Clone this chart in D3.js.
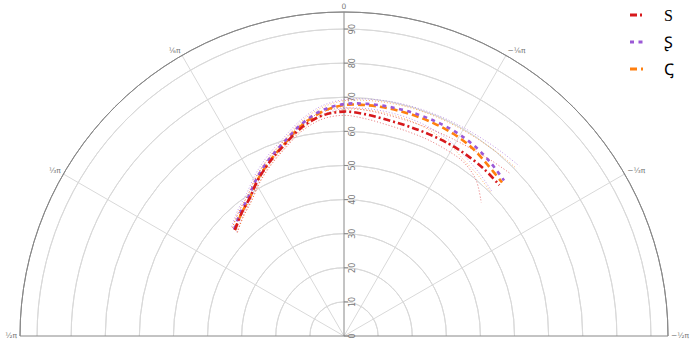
<!DOCTYPE html>
<html><head><meta charset="utf-8">
<script src="https://cdn.jsdelivr.net/npm/d3@7"></script>
<style>body{margin:0;background:#fff} svg{display:block}</style>
</head><body>
<svg id="c" width="697" height="344"></svg>
<script>
// ---- data ----
const angles = [0.8, 0.7, 0.6, 0.5, 0.4, 0.3, 0.2, 0.1, 0.0, -0.1, -0.2, -0.3, -0.4, -0.5, -0.6, -0.7, -0.8];
const seriesNames = ["S", "Ʂ", "Ꞔ"];
const sMean  = [44.6, 46.8, 49.0, 52.4, 55.6, 58.8, 62.4, 64.9, 65.8, 65.3, 64.6, 64.3, 64.2, 64.2, 64.1, 63.9, 63.5];
const sLow   = [43.6, 45.8, 48.0, 51.4, 54.6, 57.8, 61.4, 63.9, 64.7, 64.0, 63.2, 62.8, 62.6, 62.3, 61.9, 60.0, 56.1];
const sHigh  = [45.6, 47.8, 50.0, 53.4, 56.6, 59.8, 63.4, 65.9, 66.9, 66.5, 66.0, 65.8, 65.8, 66.0, 66.4, 67.2, 68.2];
const pMean  = [44.9, 47.2, 49.5, 53.0, 56.3, 59.5, 63.3, 66.4, 68.0, 68.4, 68.5, 68.5, 68.4, 68.2, 67.6, 66.6, 65.4];
const pLow   = [43.8, 46.1, 48.4, 51.9, 55.2, 58.4, 62.1, 65.1, 66.7, 67.0, 66.9, 66.6, 66.0, 65.0, 63.4, 62.0, 60.6];
const pHigh  = [46.0, 48.3, 50.6, 54.1, 57.4, 60.6, 64.5, 67.7, 69.3, 69.8, 70.1, 70.2, 70.3, 70.4, 70.6, 71.0, 71.6];
const cMean  = [44.6, 46.8, 49.0, 52.5, 55.8, 59.0, 62.9, 66.0, 67.7, 68.0, 68.0, 67.9, 67.7, 67.4, 66.7, 65.5, 64.6];
const cLow   = [43.6, 45.8, 48.0, 51.5, 54.8, 58.0, 61.8, 64.8, 66.4, 66.6, 66.4, 66.0, 65.3, 64.2, 62.4, 61.3, 60.2];
const cHigh  = [45.6, 47.8, 50.0, 53.5, 56.8, 60.0, 64.0, 67.2, 69.0, 69.4, 69.6, 69.7, 69.7, 69.7, 69.8, 70.1, 70.5];
const radialTicks = [0, 10, 20, 30, 40, 50, 60, 70, 80, 90];
const radialMax = 95;
const angleTicks = [Math.PI/2, Math.PI/3, Math.PI/6, 0, -Math.PI/6, -Math.PI/3, -Math.PI/2];
const angleTickLabels = ["¹⁄₂π", "¹⁄₃π", "¹⁄₆π", "0", "−¹⁄₆π", "−¹⁄₃π", "−¹⁄₂π"];

// ---- styles ----
const colors = ["#d7191c", "#9b59d6", "#ff7f0e"];
const dashes = ["7,3,2,3", "4,4.5", "7,4"];

const svg = d3.select("#c");
const cx = 344, cy = 336, R = 324;
const r = d3.scaleLinear().domain([0, radialMax]).range([0, R]);
const g = svg.append("g").attr("transform", `translate(${cx},${cy})`);

const arcGen = d3.arc().startAngle(-Math.PI/2).endAngle(Math.PI/2);
g.selectAll(".grid").data(radialTicks.filter(d => d > 0)).join("path")
  .attr("d", d => arcGen({innerRadius: r(d), outerRadius: r(d)}))
  .attr("fill", "none").attr("stroke", "#d9d9d9").attr("stroke-width", 1);

g.selectAll(".spoke").data(angleTicks.filter(a => Math.abs(a) > 0.01 && Math.abs(a) < 1.5)).join("line")
  .attr("x1", 0).attr("y1", 0)
  .attr("x2", a => -R * Math.sin(a)).attr("y2", a => -R * Math.cos(a))
  .attr("stroke", "#d9d9d9").attr("stroke-width", 1);

g.append("path").attr("d", arcGen({innerRadius: R, outerRadius: R}))
  .attr("fill", "none").attr("stroke", "#888").attr("stroke-width", 1);
g.append("line").attr("x1", -R).attr("x2", R).attr("y1", 0).attr("y2", 0)
  .attr("stroke", "#888").attr("stroke-width", 1);
g.append("line").attr("x1", 0).attr("x2", 0).attr("y1", 0).attr("y2", -R)
  .attr("stroke", "#888").attr("stroke-width", 1);

const rt = g.selectAll(".rt").data(radialTicks).join("g")
  .attr("transform", d => `translate(0,${-r(d)})`);
rt.append("line").attr("x1", 0).attr("x2", 4).attr("stroke", "#888");
rt.append("text").attr("transform", "translate(11,0) rotate(-90)")
  .attr("text-anchor", "middle").attr("font-family", "DejaVu Sans")
  .attr("font-size", 8).attr("fill", "#777").text(d => d);

g.selectAll(".al").data(angleTicks).join("text")
  .attr("x", a => -(R + 3) * Math.sin(a))
  .attr("y", a => -(R + 3) * Math.cos(a) + (Math.abs(a) > 1.5 ? 0 : -2))
  .attr("text-anchor", a => a > 0.01 ? "end" : (a < -0.01 ? "start" : "middle"))
  .attr("dominant-baseline", "middle")
  .attr("font-family", "DejaVu Sans").attr("font-size", 7.5).attr("fill", "#777")
  .text((a, i) => angleTickLabels[i]);

const line = d3.lineRadial().curve(d3.curveCatmullRom.alpha(0.5))
  .angle(d => -d[0]).radius(d => r(d[1]));
const series = [
  {mean: sMean, low: sLow, high: sHigh},
  {mean: pMean, low: pLow, high: pHigh},
  {mean: cMean, low: cLow, high: cHigh}
];
series.forEach((s, i) => {
  [s.low, s.high].forEach(b => {
    g.append("path").attr("d", line(angles.map((a, k) => [a, b[k]])))
      .attr("fill", "none").attr("stroke", colors[i]).attr("stroke-opacity", 0.6)
      .attr("stroke-width", 1).attr("stroke-dasharray", "1,2");
  });
});
[2, 1, 0].forEach(i => {
  const s = series[i];
  g.append("path").attr("d", line(angles.map((a, k) => [a, s.mean[k]])))
    .attr("fill", "none").attr("stroke", colors[i])
    .attr("stroke-width", 2.6).attr("stroke-dasharray", dashes[i]);
});

const lg = svg.selectAll(".lg").data(seriesNames).join("g")
  .attr("transform", (d, i) => `translate(630,${15 + i * 27})`);
lg.append("line").attr("x1", 0).attr("x2", 13).attr("y1", 0).attr("y2", 0)
  .attr("stroke", (d, i) => colors[i]).attr("stroke-width", 3)
  .attr("stroke-dasharray", (d, i) => dashes[i]);
lg.append("text").attr("x", 34).attr("y", 0).attr("dominant-baseline", "central")
  .attr("font-family", "Liberation Serif").attr("font-size", 16).attr("fill", "#000")
  .text(d => d);
</script>
</body></html>
